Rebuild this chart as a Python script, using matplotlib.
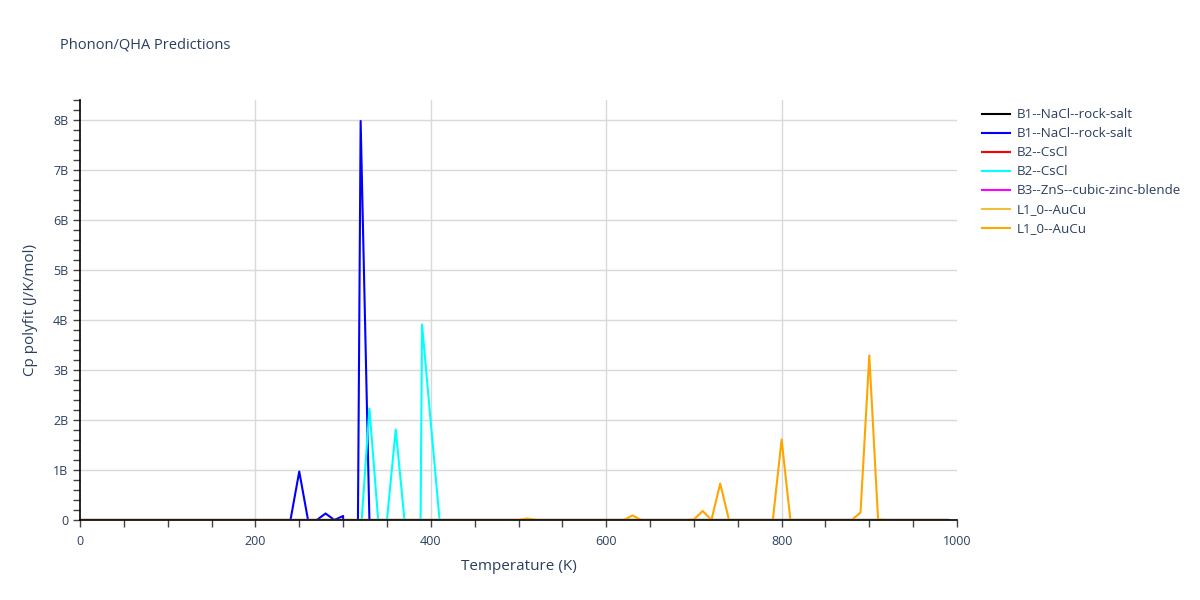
import numpy as np
import matplotlib
matplotlib.use("Agg")
import matplotlib.pyplot as plt
from matplotlib.ticker import FuncFormatter, MultipleLocator

plt.rcParams['font.family'] = ['Open Sans', 'DejaVu Sans']

# temperature grid (K) of every series
temps = list(range(0, 1000, 10))

# non-zero points (value in J/K/mol); all other temps are 0
b1_black = {}
b1_blue = {250: 0.97e9, 280: 0.13e9, 300: 0.08e9, 310: -18e9, 320: 7.98e9}
b2_red = {}
b2_cyan = {320: -0.3e9, 330: 2.23e9, 360: 1.81e9, 380: -20e9, 390: 3.91e9, 400: 1.95e9}
b3_magenta = {}
l10_gold = {}
l10_orange = {510: 0.03e9, 630: 0.09e9, 700: 0.01e9, 710: 0.18e9, 730: 0.73e9,
              800: 1.61e9, 890: 0.15e9, 900: 3.29e9, 910: 0.01e9}

series = [
    ("B1--NaCl--rock-salt", b1_black, "black"),
    ("B1--NaCl--rock-salt", b1_blue, "blue"),
    ("B2--CsCl", b2_red, "red"),
    ("B2--CsCl", b2_cyan, "cyan"),
    ("B3--ZnS--cubic-zinc-blende", b3_magenta, "magenta"),
    ("L1_0--AuCu", l10_gold, "#efc13a"),
    ("L1_0--AuCu", l10_orange, "orange"),
]

text_col = "#2a3f5f"

fig = plt.figure(figsize=(12, 6), dpi=100)
ax = fig.add_axes([80 / 1200, 80 / 600, 877 / 1200, 420 / 600])

for name, pts, col in series:
    y = [pts.get(t, 0.0) for t in temps]
    ax.plot(temps, y, color=col, lw=1.5, label=name)

ax.set_xlim(0, 1000)
ax.set_ylim(0, 8.4e9)

ax.xaxis.set_major_locator(MultipleLocator(200))
ax.xaxis.set_minor_locator(MultipleLocator(50))
ax.yaxis.set_major_locator(MultipleLocator(1e9))
ax.yaxis.set_minor_locator(MultipleLocator(0.2e9))
ax.yaxis.set_major_formatter(FuncFormatter(lambda v, p: "0" if v == 0 else "%gB" % (v / 1e9)))

ax.grid(True, axis="y", which="major", color="#d9d9d9", lw=1)
for gx in [200, 400, 600, 800]:
    ax.axvline(gx, color="#d9d9d9", lw=1, zorder=0)
ax.set_axisbelow(True)
for s in ["top", "right"]:
    ax.spines[s].set_visible(False)
for s in ["left", "bottom"]:
    ax.spines[s].set_color("black")
    ax.spines[s].set_linewidth(1.2)

ax.tick_params(which="both", direction="out", color="#444444", length=5, width=1,
               labelsize=9, labelcolor=text_col)
ax.tick_params(axis="x", which="major", pad=6)

ax.set_xlabel("Temperature (K)", fontsize=11, color=text_col, labelpad=8)
ax.set_ylabel("Cp polyfit (J/K/mol)", fontsize=11, color=text_col, labelpad=11)

fig.text(60 / 1200, 1 - 45 / 600, "Phonon/QHA Predictions", fontsize=10.5,
         color=text_col, va="center", ha="left")

leg = ax.legend(loc="upper left", bbox_to_anchor=(1.022, 0.993), frameon=False,
                fontsize=9.6, labelcolor=text_col, handlelength=2.1,
                handletextpad=0.5, labelspacing=0.45, borderaxespad=0)

fig.savefig("out.png", dpi=100)
